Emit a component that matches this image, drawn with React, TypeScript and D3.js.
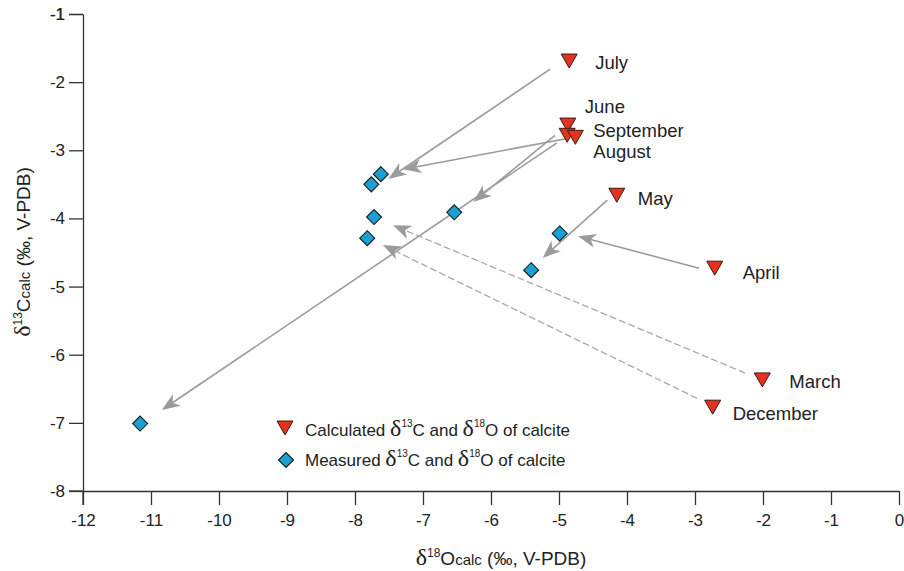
import * as React from "react";
import { useEffect, useRef } from "react";
import { scaleLinear, select, axisLeft, axisBottom, range } from "d3";

// calculated calcite values per month
const months = ["July", "June", "September", "August", "May", "April", "March", "December"];
const calcO = [-4.85, -4.87, -4.88, -4.76, -4.15, -2.71, -2.01, -2.74];
const calcC = [-1.69, -2.63, -2.78, -2.81, -3.66, -4.73, -6.37, -6.77];

// measured calcite values
const measO = [-7.62, -7.76, -7.72, -7.82, -6.54, -4.99, -5.41, -11.16];
const measC = [-3.35, -3.5, -3.98, -4.29, -3.91, -4.22, -4.76, -7.01];

// arrows (start / end in data units)
const arrowFromO = [-5.13, -4.84, -5.06, -5.03, -4.29, -2.94, -2.26, -2.97];
const arrowFromC = [-1.81, -2.82, -2.78, -2.89, -3.73, -4.73, -6.27, -6.64];
const arrowToO = [-7.51, -7.29, -6.26, -10.84, -5.24, -4.72, -7.44, -7.59];
const arrowToC = [-3.42, -3.28, -3.76, -6.81, -4.58, -4.26, -4.1, -4.39];
const arrowDashed = [false, false, false, false, false, false, true, true];

const xTicks = range(-12, 1);
const yTicks = range(-8, 0);

const labelOffset: Record<string, [number, number]> = {
    July: [26, 8], June: [17, -12], September: [26, 2], August: [18, 21],
    May: [21, 10], April: [28, 11], March: [27, 8], December: [20, 13]
};

const RED = "#e3321f";
const BLUE = "#1c9fd2";
const GREY = "#9b9b9b";
const FONT = "'Liberation Sans', Arial, sans-serif";
const SERIF = "'Liberation Serif', serif";

const tri = "M-8,-7L8,-7L0,7Z";
const dia = "M0,-7.5L7.5,0L0,7.5L-7.5,0Z";

const App: React.FC = () => {
    const xAxisRef = useRef<SVGGElement>(null);
    const yAxisRef = useRef<SVGGElement>(null);
    const width = 904, height = 571;
    const margin = {top: 14, left: 83, right: 5, bottom: 80};

    const x = scaleLinear().domain([-12, 0]).range([margin.left, width - margin.right]);
    const y = scaleLinear().domain([-1, -8]).range([margin.top, height - margin.bottom]);

    useEffect(() => {
        if (xAxisRef.current) {
            const g = select(xAxisRef.current);
            g.selectAll("*").remove();
            g.call(axisBottom(x).tickValues(xTicks).tickSize(14).tickSizeOuter(0).tickPadding(9).tickFormat(d => String(d)));
            g.selectAll("text").attr("font-size", 17).attr("font-family", FONT).attr("fill", "#222");
            g.selectAll("line,path").attr("stroke", "#333").attr("stroke-width", 1.3);
        }
        if (yAxisRef.current) {
            const g = select(yAxisRef.current);
            g.selectAll("*").remove();
            g.call(axisLeft(y).tickValues([-1, ...yTicks.slice().reverse()]).tickSize(14).tickSizeOuter(0).tickPadding(4).tickFormat(d => String(d)));
            g.selectAll("text").attr("font-size", 17).attr("font-family", FONT).attr("fill", "#222");
            g.selectAll("line,path").attr("stroke", "#333").attr("stroke-width", 1.3);
        }
    }, []);

    const arrows = arrowFromO.map((o, i) => {
        const x1 = x(o), y1 = y(arrowFromC[i]);
        const x2 = x(arrowToO[i]), y2 = y(arrowToC[i]);
        const ang = Math.atan2(y2 - y1, x2 - x1) * 180 / Math.PI;
        const len = Math.hypot(x2 - x1, y2 - y1);
        const ex = x1 + (x2 - x1) * (len - 11) / len;
        const ey = y1 + (y2 - y1) * (len - 11) / len;
        return (
            <g key={"a" + i}>
                <line x1={x1} y1={y1} x2={ex} y2={ey} stroke={arrowDashed[i] ? "#a8a8a8" : GREY}
                      strokeWidth={arrowDashed[i] ? 1.3 : 1.6} strokeDasharray={arrowDashed[i] ? "7,3" : undefined}/>
                <path d="M0,0L-18,-7L-13,0L-18,7Z" fill={GREY}
                      transform={`translate(${x2},${y2}) rotate(${ang})`}/>
            </g>
        );
    });

    return (
        <svg width={width} height={height} style={{position: "absolute", left: 0, top: 0, background: "#fff"}}
             fontFamily={FONT}>
            <g ref={xAxisRef} transform={`translate(0,${y(-8)})`}/>
            <g ref={yAxisRef} transform={`translate(${x(-12)},0)`}/>
            <line x1={x(-12)} x2={x(-12)} y1={y(-8)} y2={y(-8) + 14} stroke="#333" strokeWidth={1.3}/>
            <line x1={x(-12) - 14} x2={x(-12)} y1={y(-8)} y2={y(-8)} stroke="#333" strokeWidth={1.3}/>

            {arrows}

            {measO.map((o, i) => (
                <path key={"m" + i} d={dia} transform={`translate(${x(o)},${y(measC[i])})`}
                      fill={BLUE} stroke="#1a1a1a" strokeWidth={1.1}/>
            ))}
            {calcO.map((o, i) => (
                <path key={"c" + i} d={tri} transform={`translate(${x(o)},${y(calcC[i])})`}
                      fill={RED} stroke="#3a1a12" strokeWidth={1}/>
            ))}
            {months.map((m, i) => (
                <text key={"l" + i} x={x(calcO[i]) + labelOffset[m][0]} y={y(calcC[i]) + labelOffset[m][1]}
                      fontSize={18.5} fill="#222">{m}</text>
            ))}

            {/* legend */}
            <path d={tri} transform="translate(285,428)" fill={RED} stroke="#3a1a12" strokeWidth={1}/>
            <text x={305} y={436} fontSize={17} fill="#222">
                Calculated <tspan fontFamily={SERIF} fontSize={24}>δ</tspan>
                <tspan fontSize={10} dy={-9}>13</tspan><tspan dy={9}>C and </tspan>
                <tspan fontFamily={SERIF} fontSize={24}>δ</tspan>
                <tspan fontSize={10} dy={-9}>18</tspan><tspan dy={9}>O of calcite</tspan>
            </text>
            <path d={dia} transform="translate(286,460)" fill={BLUE} stroke="#1a1a1a" strokeWidth={1.1}/>
            <text x={305} y={466} fontSize={17} fill="#222">
                Measured <tspan fontFamily={SERIF} fontSize={24}>δ</tspan>
                <tspan fontSize={10} dy={-9}>13</tspan><tspan dy={9}>C and </tspan>
                <tspan fontFamily={SERIF} fontSize={24}>δ</tspan>
                <tspan fontSize={10} dy={-9}>18</tspan><tspan dy={9}>O of calcite</tspan>
            </text>

            {/* axis titles */}
            <text x={501} y={565} textAnchor="middle" fontSize={19} fill="#222">
                <tspan fontFamily={SERIF} fontSize={24}>δ</tspan>
                <tspan fontSize={12} dy={-8}>18</tspan><tspan dy={8}>O</tspan>
                <tspan fontSize={15}>calc</tspan><tspan> (‰, V-PDB)</tspan>
            </text>
            <text transform="translate(30,252) rotate(-90)" textAnchor="middle" fontSize={19} fill="#222">
                <tspan fontFamily={SERIF} fontSize={24}>δ</tspan>
                <tspan fontSize={12} dy={-8}>13</tspan><tspan dy={8}>C</tspan>
                <tspan fontSize={15}>calc</tspan><tspan> (‰, V-PDB)</tspan>
            </text>
        </svg>
    );
};

export default App;
